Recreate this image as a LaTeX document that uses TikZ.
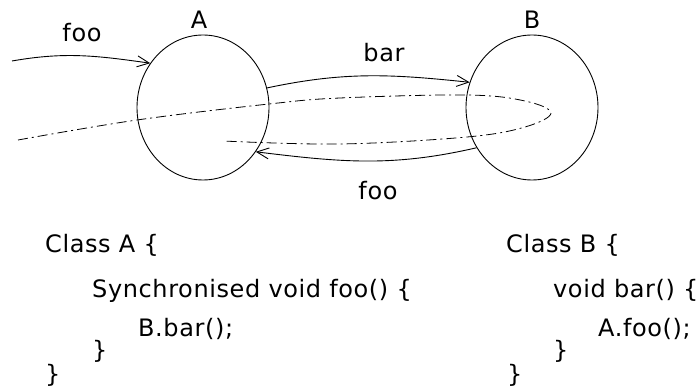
\documentclass[tikz,border=0pt]{standalone}
\usepackage{fontspec}
\setmainfont[LetterSpace=2.5]{DejaVu Sans}
\usetikzlibrary{shapes.geometric,arrows.meta}
\begin{document}
\begin{tikzpicture}[x=1pt,y=-1pt,
  obj/.style={ellipse,draw,line width=0.9pt,minimum width=132pt,minimum height=145pt,inner sep=0pt},
  lbl/.style={inner sep=0pt,anchor=base,font=\fontsize{24}{27}\selectfont},
  code/.style={inner sep=0pt,anchor=base west,font=\fontsize{24}{27}\selectfont},
  call/.style={line width=0.9pt,-{Straight Barb[length=12pt,width=11pt,line width=0.9pt]}},
  thread/.style={line width=0.8pt,dash pattern=on 10pt off 4pt on 2pt off 4pt}]
\useasboundingbox (0,0) rectangle (696,387);
\node[obj] (A) at (203,107.5) {};
\node[obj] (B) at (532,107.5) {};
\node[lbl] (la) at (199,29) {A};
\node[lbl] (lb) at (532,29) {B};
\node[lbl] (lfoo1) at (82,42) {foo};
\node[lbl] (lbar) at (384,62) {bar};
\node[lbl] (lfoo2) at (378,200) {foo};
\coordinate (s) at (12,61);
\draw[call] (s) to[out=10,in=172] (A.140);
\draw[call] (A.17) to[out=12,in=174] (B.158);
\draw[call] (B.216) to[out=193,in=-7] (A.-40);
\draw[thread] plot[smooth,tension=0.6] coordinates {(18,140) (137,120) (269,104) (340,98) (467,95) (525,101) (551,113) (525,127) (467,137) (340,144) (223,141)};
\node[code] (c1) at (45,253) {Class A \{};
\node[code] (c2) at (92,298) {Synchronised void foo() \{};
\node[code] (c3) at (138,337) {B.bar();};
\node[code] (c4) at (92,358) {\}};
\node[code] (c5) at (45,382) {\}};
\node[code] (d1) at (506,253) {Class B \{};
\node[code] (d2) at (553,298) {void bar() \{};
\node[code] (d3) at (598,337) {A.foo();};
\node[code] (d4) at (553,358) {\}};
\node[code] (d5) at (507,382) {\}};
\end{tikzpicture}
\end{document}
